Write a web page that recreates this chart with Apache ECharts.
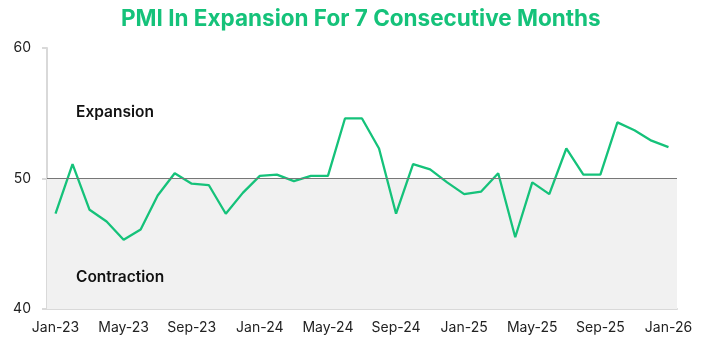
<!DOCTYPE html>
<html>
<head>
<meta charset="utf-8">
<script src="https://cdn.jsdelivr.net/npm/echarts@6/dist/echarts.min.js"></script>
<style>
html,body{margin:0;padding:0;background:#fff;}
#c{width:708px;height:357px;}
</style>
</head>
<body>
<div id="c"></div>
<script>
const categories = ["Jan-23","Feb-23","Mar-23","Apr-23","May-23","Jun-23","Jul-23","Aug-23","Sep-23","Oct-23","Nov-23","Dec-23",
  "Jan-24","Feb-24","Mar-24","Apr-24","May-24","Jun-24","Jul-24","Aug-24","Sep-24","Oct-24","Nov-24","Dec-24",
  "Jan-25","Feb-25","Mar-25","Apr-25","May-25","Jun-25","Jul-25","Aug-25","Sep-25","Oct-25","Nov-25","Dec-25","Jan-26"];
const pmi = [47.3,51.1,47.6,46.7,45.3,46.1,48.7,50.4,49.6,49.5,47.3,48.9,
  50.2,50.3,49.8,50.2,50.2,54.6,54.6,52.3,47.3,51.1,50.7,49.7,
  48.8,49.0,50.4,45.5,49.7,48.8,52.3,50.3,50.3,54.3,53.7,52.9,52.4];
const yTicks = [40,50,60];
const threshold = 50;
const titleText = "PMI In Expansion For 7 Consecutive Months";

const chart = echarts.init(document.getElementById('c'));
const green = '#15C27A';
chart.setOption({
  animation:false,
  title:{text:titleText,left:116,top:3,textStyle:{fontFamily:'Inter',fontSize:22.5,fontWeight:'bold',color:green}},
  grid:{left:47,right:31,top:48,bottom:48},
  xAxis:{type:'category',data:categories,boundaryGap:true,
    axisLine:{lineStyle:{color:'#d9d9d9',width:2}},
    axisTick:{interval:3,length:5,lineStyle:{color:'#d9d9d9',width:2}},
    axisLabel:{interval:3,margin:12,fontFamily:'Inter',fontSize:14,color:'#222'}},
  yAxis:{type:'value',min:yTicks[0],max:yTicks[yTicks.length-1],interval:10,
    axisLine:{show:true,lineStyle:{color:'#d9d9d9',width:2}},
    axisTick:{show:true,length:5,lineStyle:{color:'#d9d9d9',width:2}},
    splitLine:{show:false},
    axisLabel:{margin:16,fontFamily:'Inter',fontSize:14,color:'#222'}},
  graphic:[
    {type:'text',id:'exp',z:100,left:76,top:104,style:{text:'Expansion',fontFamily:'Inter',fontSize:15.5,fontWeight:600,fill:'#111'}},
    {type:'text',id:'con',z:100,left:76,top:269,style:{text:'Contraction',fontFamily:'Inter',fontSize:15.5,fontWeight:600,fill:'#111'}}
  ],
  series:[{
    type:'line',data:pmi,symbol:'none',
    lineStyle:{color:green,width:2.3},
    markArea:{silent:true,itemStyle:{color:'#f1f1f1'},data:[[{yAxis:yTicks[0]},{yAxis:threshold}]]},
    markLine:{silent:true,symbol:'none',label:{show:false},lineStyle:{color:'#777',width:1,type:'solid'},data:[{yAxis:threshold}]},
    z:3
  }]
});
</script>
</body>
</html>
